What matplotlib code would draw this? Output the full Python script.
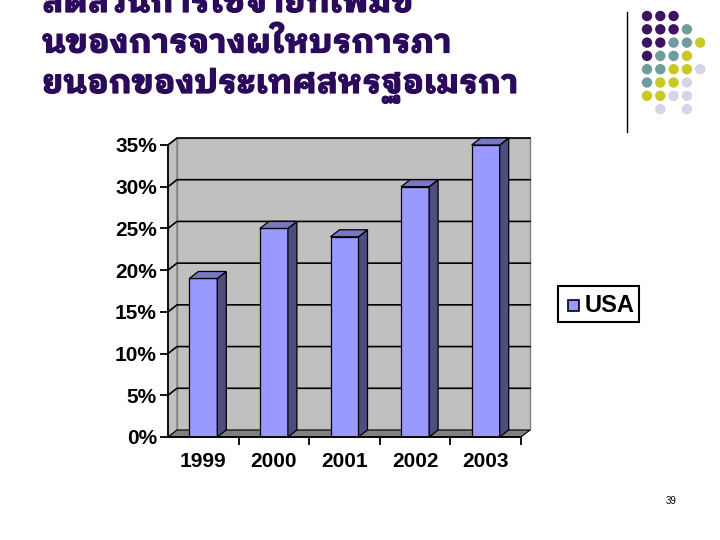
import os
import matplotlib
matplotlib.use('Agg')
import matplotlib.pyplot as plt
import matplotlib.patheffects as pe
from matplotlib import font_manager
from matplotlib.patches import Polygon, Circle, Rectangle

# ข้อมูล
years = ['1999', '2000', '2001', '2002', '2003']
usa = [19, 25, 24, 30, 35]
yticks = [0, 5, 10, 15, 20, 25, 30, 35]
title_lines = ['สดสวนการใชจายทเพมข', 'นของการจางผใหบรการภา', 'ยนอกของประเทศสหรฐอเมรกา']

# ฟอนต์ภาษาไทย
files = {os.path.basename(f): f for f in font_manager.findSystemFonts()}
thai_font = None
for name in ['IBMPlexSansThaiLooped-Bold.ttf', 'IBMPlexSansThaiLooped-SemiBold.ttf',
             'IBMPlexSansThaiLooped-Medium.ttf', 'Sarabun-Bold.ttf']:
    if name in files:
        thai_font = files[name]
        break
font_manager.fontManager.addfont(thai_font)
thai_name = font_manager.FontProperties(fname=thai_font).get_name()

plt.rcParams['font.family'] = ['Liberation Sans', 'DejaVu Sans']

W, H = 720, 540
fig = plt.figure(figsize=(7.2, 5.4), dpi=100)

# หัวเรื่อง (บรรทัดแรกถูกตัดขอบบนเหมือนต้นฉบับ)
title_color = '#2B0A5C'
titles = []
for i, line in enumerate(title_lines):
    t = fig.text(42 / W, 1 - (12 + 40.5 * i) / H, line, family=[thai_name, 'DejaVu Sans'],
                 fontsize=24, fontweight='bold', color=title_color, va='baseline',
                 path_effects=[pe.withStroke(linewidth=0.9, foreground=title_color)])
    titles.append(t)
# ปรับขนาดให้บรรทัดที่สองกว้างประมาณ 410 px
renderer = fig.canvas.get_renderer()
w2 = titles[1].get_window_extent(renderer).width
for t in titles:
    t.set_fontsize(24 * 410 / w2)

# เส้นแนวตั้งและจุดตกแต่ง
fig.add_artist(plt.Line2D([627 / W, 627 / W], [1 - 12 / H, 1 - 132 / H],
                          transform=fig.transFigure, color='black', lw=1))
P, T, Y, L = '#3C1461', '#6F9C9C', '#C9C925', '#D5D5E8'
dots = [
    [P, P, P, None, None],
    [P, P, P, T, None],
    [P, P, T, T, Y],
    [P, T, T, Y, None],
    [T, T, Y, Y, L],
    [T, Y, Y, L, None],
    [Y, Y, L, L, None],
    [None, L, None, L, None],
]
for r, row in enumerate(dots):
    for c, col in enumerate(row):
        if col is None:
            continue
        cx, cy = 647 + 13.3 * c, 16 + 13.3 * r
        fig.add_artist(Circle((cx, H - cy), 5.2, transform=None, color=col, lw=0))

# กราฟ
ax_l, ax_r, ax_b, ax_t = 168, 521, 437, 145
ax = fig.add_axes([ax_l / W, 1 - ax_b / H, (ax_r - ax_l) / W, (ax_b - ax_t) / H])
ax.set_xlim(-0.5, len(years) - 0.5)
ax.set_ylim(0, 35)
ax.patch.set_visible(False)

px_x = (ax_r - ax_l) / len(years)
px_y = (ax_b - ax_t) / 35.0
dx = 9 / px_x
dy = 7 / px_y
x0, x1 = -0.5, len(years) - 0.5

# ผนังด้านหลังและด้านข้าง
ax.add_patch(Polygon([(x0 + dx, dy), (x1 + dx, dy), (x1 + dx, 35 + dy), (x0 + dx, 35 + dy)],
                     facecolor='#C0C0C0', edgecolor='#808080', lw=1, clip_on=False, zorder=0))
ax.add_patch(Polygon([(x0, 0), (x0 + dx, dy), (x0 + dx, 35 + dy), (x0, 35)],
                     facecolor='#C0C0C0', edgecolor='#808080', lw=1, clip_on=False, zorder=0))
# พื้น
ax.add_patch(Polygon([(x0, 0), (x1, 0), (x1 + dx, dy), (x0 + dx, dy)],
                     facecolor='#808080', edgecolor='black', lw=0.8, clip_on=False, zorder=1))
for yv in yticks[1:]:
    ax.plot([x0, x0 + dx, x1 + dx], [yv, yv + dy, yv + dy], color='black', lw=1.2,
            clip_on=False, zorder=1)

# แท่ง 3 มิติ
bw = 28 / px_x
xs = list(range(len(years)))
ax.bar(xs, usa, width=bw, color='#9999FF', edgecolor='black', lw=0.9, zorder=3, label='USA')
for x, v in zip(xs, usa):
    r = x + bw / 2
    l = x - bw / 2
    ax.add_patch(Polygon([(r, 0), (r + dx, dy), (r + dx, v + dy), (r, v)],
                         facecolor='#4D4D80', edgecolor='black', lw=0.9, clip_on=False, zorder=3))
    ax.add_patch(Polygon([(l, v), (r, v), (r + dx, v + dy), (l + dx, v + dy)],
                         facecolor='#7777C4', edgecolor='black', lw=0.9, clip_on=False, zorder=3))

# แกน
for s in ['top', 'right']:
    ax.spines[s].set_visible(False)
ax.spines['left'].set_linewidth(1.3)
ax.spines['bottom'].set_linewidth(1.3)
ax.spines['left'].set_zorder(4)
ax.spines['bottom'].set_zorder(4)
ax.set_yticks(yticks)
ax.set_yticklabels([f'{v}%' for v in yticks], fontsize=15, fontweight='bold')
ax.set_xticks(xs)
ax.set_xticklabels(years, fontsize=15, fontweight='bold')
ax.set_xticks([i + 0.5 for i in range(len(years))], minor=True)
ax.tick_params(axis='x', which='major', length=0, pad=11)
ax.tick_params(axis='x', which='minor', length=6, width=1.3, direction='out')
ax.tick_params(axis='y', length=6, width=1.3, direction='out', pad=2)

# คำอธิบาย
fig.add_artist(Rectangle((558, H - 322), 81, 36, transform=None, facecolor='white',
                         edgecolor='black', lw=1.5))
fig.add_artist(Rectangle((568, H - 311), 11, 11, transform=None, facecolor='#9999FF',
                         edgecolor='black', lw=1.2))
fig.text(585 / W, 1 - 305 / H, 'USA', fontsize=17, fontweight='bold', va='center', ha='left')

# เลขหน้า
fig.text(671 / W, 1 - 501 / H, '39', fontsize=7, ha='center', va='center')

fig.savefig('out.png', dpi=100)
